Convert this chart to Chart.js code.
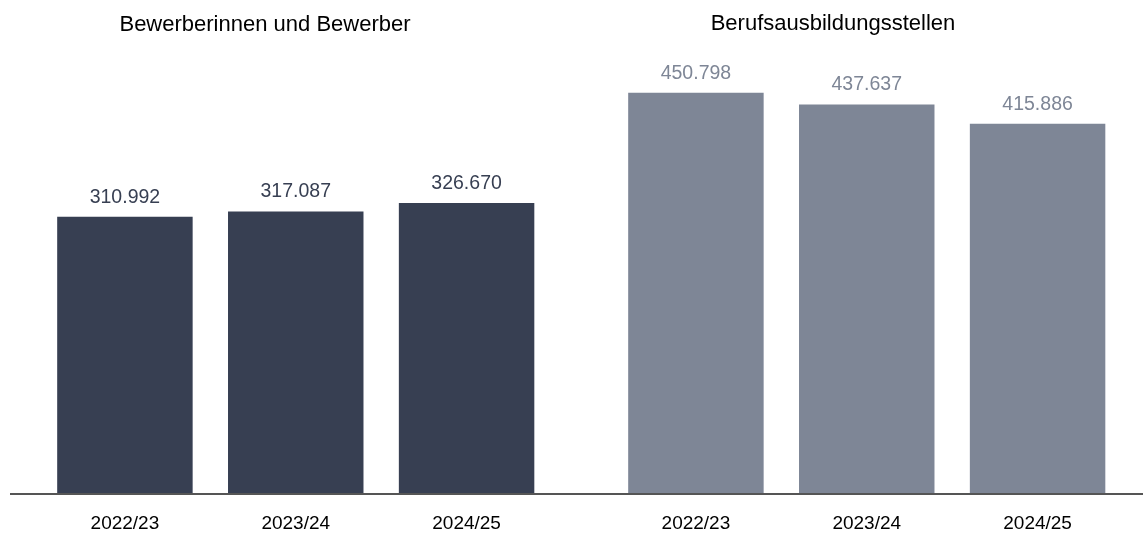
<!DOCTYPE html>
<html lang="de">
<head>
<meta charset="utf-8">
<title>Bewerber und Ausbildungsstellen</title>
<script src="https://cdn.jsdelivr.net/npm/chart.js@4/dist/chart.umd.min.js"></script>
<style>
  html, body { margin: 0; padding: 0; background: #fff; }
  #wrap { position: relative; width: 1143px; height: 536px; overflow: hidden; }
  canvas { position: absolute; top: 0; }
  #links { left: 0; }
  #rechts { left: 571px; }
  .titel {
    position: absolute; top: 13px; transform: translateX(-50%);
    font-family: 'Liberation Sans', Arial, sans-serif; font-size: 22px; line-height: 22px;
    color: #000; white-space: nowrap;
  }
</style>
</head>
<body>
<div id="wrap">
  <canvas id="links" width="572" height="536"></canvas>
  <canvas id="rechts" width="572" height="536"></canvas>
  <div class="titel" style="left:265px">Bewerberinnen und Bewerber</div>
  <div class="titel" style="left:833px;top:12px">Berufsausbildungsstellen</div>
</div>
<script>
// Daten
const jahre = ['2022/23', '2023/24', '2024/25'];
const bewerber = [310992, 317087, 326670];
const stellen = [450798, 437637, 415886];

const FONT = "'Liberation Sans', Arial, sans-serif";

// Zahl mit Tausenderpunkt
function fmt(v) {
  return String(v).replace(/\B(?=(\d{3})+(?!\d))/g, '.');
}

// Werte über den Balken
const wertLabels = {
  id: 'wertLabels',
  afterDatasetsDraw(chart) {
    const ctx = chart.ctx;
    const ds = chart.data.datasets[0];
    chart.getDatasetMeta(0).data.forEach((bar, i) => {
      ctx.save();
      ctx.font = '19.5px ' + FONT;
      ctx.fillStyle = ds.labelColor;
      ctx.textAlign = 'center';
      ctx.textBaseline = 'alphabetic';
      ctx.fillText(fmt(ds.data[i]), bar.x, bar.y - 14);
      ctx.restore();
    });
  }
};

// Grundlinie über die ganze Breite
const grundlinie = {
  id: 'grundlinie',
  afterDatasetsDraw(chart, args, opts) {
    const ctx = chart.ctx;
    const y = chart.scales.y.getPixelForValue(0) + 1;
    ctx.save();
    ctx.strokeStyle = '#555555';
    ctx.lineWidth = 2;
    ctx.beginPath();
    ctx.moveTo(opts.von, y);
    ctx.lineTo(chart.width, y);
    ctx.stroke();
    ctx.restore();
  }
};

function makeChart(id, werte, farbe, linieVon) {
  return new Chart(document.getElementById(id), {
    type: 'bar',
    data: {
      labels: jahre,
      datasets: [{
        data: werte,
        backgroundColor: farbe,
        labelColor: farbe,
        barPercentage: 0.793,
        categoryPercentage: 1
      }]
    },
    options: {
      responsive: false,
      animation: false,
      layout: { padding: { top: 49, left: 39.5, right: 20, bottom: 0 } },
      plugins: {
        legend: { display: false },
        tooltip: { enabled: false },
        grundlinie: { von: linieVon }
      },
      scales: {
        x: {
          grid: { display: false },
          border: { display: false },
          ticks: { color: '#000', font: { family: FONT, size: 19 }, padding: 11 },
          afterFit(scale) { scale.height = 43; }
        },
        y: {
          display: false,
          min: 0,
          max: 500000
        }
      }
    },
    plugins: [wertLabels, grundlinie]
  });
}

makeChart('links', bewerber, '#373f52', 10);
makeChart('rechts', stellen, '#7e8696', 0);
</script>
</body>
</html>
